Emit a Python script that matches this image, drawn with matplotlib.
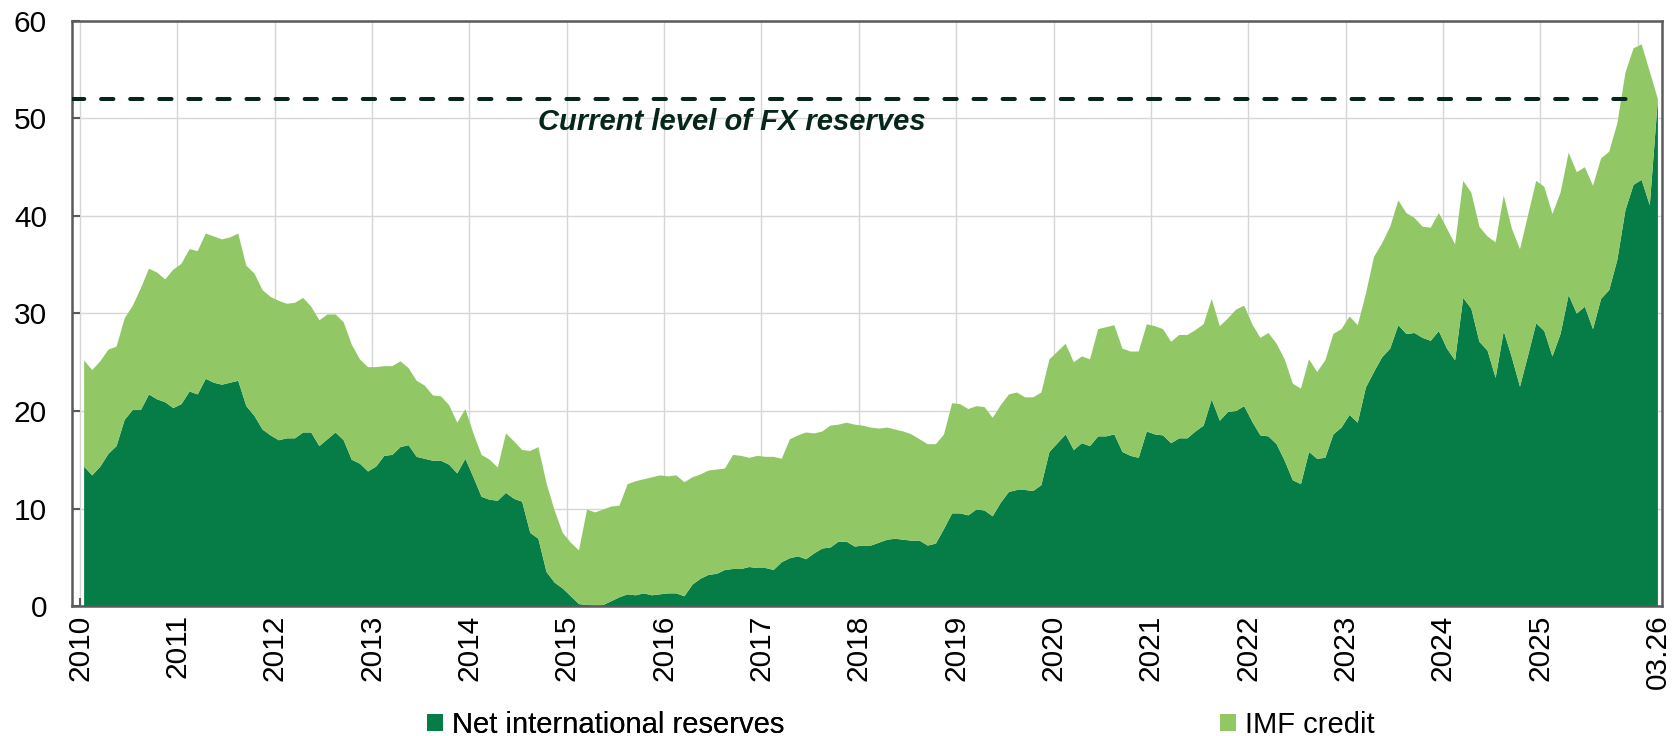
import matplotlib
matplotlib.use("Agg")
import matplotlib.pyplot as plt
from matplotlib.patches import Patch
import numpy as np
import pandas as pd

# monthly data, Jan 2010 - Mar 2026 (USD bn)
months = pd.date_range("2010-01-01", "2026-03-01", freq="MS")

net_reserves = [
    14.3, 13.4, 14.3, 15.6, 16.4, 19.1, 20.1, 20.1, 21.7, 21.2, 20.9, 20.3,  # 2010
    20.7, 22.0, 21.7, 23.3, 22.9, 22.7, 22.9, 23.1, 20.5, 19.5, 18.1, 17.5,  # 2011
    17.0, 17.2, 17.2, 17.8, 17.8, 16.4, 17.1, 17.8, 17.0, 15.0, 14.6, 13.8,  # 2012
    14.3, 15.4, 15.5, 16.3, 16.5, 15.3, 15.1, 14.9, 14.9, 14.5, 13.6, 15.1,  # 2013
    13.2, 11.2, 10.9, 10.8, 11.6, 11.0, 10.7, 7.5, 6.9, 3.5, 2.4, 1.8,       # 2014
    1.0, 0.2, 0.1, 0.0, 0.1, 0.5, 0.9, 1.2, 1.1, 1.3, 1.1, 1.2,              # 2015
    1.3, 1.3, 1.0, 2.2, 2.8, 3.2, 3.3, 3.7, 3.8, 3.8, 4.0, 3.9,              # 2016
    3.9, 3.7, 4.5, 4.9, 5.1, 4.8, 5.4, 5.9, 6.0, 6.6, 6.6, 6.1,              # 2017
    6.2, 6.2, 6.5, 6.8, 6.9, 6.8, 6.7, 6.7, 6.2, 6.4, 7.9, 9.5,              # 2018
    9.5, 9.3, 9.9, 9.8, 9.2, 10.6, 11.7, 11.9, 11.9, 11.8, 12.4, 15.8,       # 2019
    16.7, 17.6, 16.0, 16.7, 16.4, 17.4, 17.4, 17.6, 15.8, 15.4, 15.2, 17.9,  # 2020
    17.6, 17.5, 16.7, 17.2, 17.2, 17.9, 18.5, 21.2, 19.0, 19.9, 20.0, 20.5,  # 2021
    18.9, 17.5, 17.4, 16.6, 14.9, 12.9, 12.5, 15.8, 15.1, 15.2, 17.6, 18.3,  # 2022
    19.6, 18.8, 22.4, 24.0, 25.5, 26.4, 28.8, 27.9, 28.0, 27.5, 27.2, 28.2,  # 2023
    26.4, 25.2, 31.6, 30.5, 27.1, 26.2, 23.4, 28.2, 25.5, 22.5, 25.7, 29.0,  # 2024
    28.2, 25.6, 27.9, 31.9, 30.0, 30.7, 28.4, 31.5, 32.4, 35.5, 40.6, 43.2,  # 2025
    43.7, 41.1, 52.0,                                                        # 2026
]

# top of the stack (net reserves + IMF credit)
reserves_total = [
    25.2, 24.2, 25.1, 26.3, 26.6, 29.5, 30.8, 32.6, 34.6, 34.2, 33.5, 34.5,
    35.1, 36.6, 36.4, 38.2, 37.9, 37.6, 37.8, 38.2, 34.9, 34.1, 32.4, 31.7,
    31.3, 31.0, 31.1, 31.6, 30.7, 29.3, 29.9, 29.9, 29.1, 26.8, 25.3, 24.5,
    24.5, 24.6, 24.6, 25.1, 24.4, 23.1, 22.6, 21.6, 21.5, 20.6, 18.8, 20.2,
    17.7, 15.5, 15.0, 14.2, 17.7, 16.9, 16.0, 15.9, 16.3, 12.6, 9.8, 7.5,
    6.5, 5.7, 9.9, 9.6, 9.9, 10.2, 10.3, 12.5, 12.8, 13.0, 13.2, 13.4,
    13.3, 13.4, 12.7, 13.2, 13.5, 13.9, 14.0, 14.1, 15.5, 15.4, 15.2, 15.4,
    15.3, 15.3, 15.1, 17.1, 17.5, 17.8, 17.7, 17.9, 18.5, 18.6, 18.8, 18.6,
    18.5, 18.3, 18.2, 18.3, 18.1, 17.9, 17.6, 17.1, 16.6, 16.6, 17.6, 20.8,
    20.7, 20.2, 20.5, 20.4, 19.3, 20.6, 21.7, 21.9, 21.4, 21.4, 21.9, 25.3,
    26.1, 26.9, 25.0, 25.6, 25.3, 28.4, 28.6, 28.8, 26.4, 26.1, 26.1, 28.9,
    28.7, 28.4, 27.1, 27.8, 27.8, 28.3, 28.9, 31.5, 28.7, 29.5, 30.4, 30.8,
    28.9, 27.5, 28.0, 26.9, 25.3, 22.8, 22.3, 25.3, 24.0, 25.2, 27.9, 28.4,
    29.7, 28.8, 32.0, 35.8, 37.2, 38.9, 41.6, 40.3, 39.8, 38.9, 38.8, 40.3,
    38.7, 37.1, 43.6, 42.4, 38.9, 37.9, 37.3, 42.1, 38.7, 36.6, 40.1, 43.6,
    43.0, 40.2, 42.4, 46.5, 44.5, 45.0, 43.1, 45.9, 46.6, 49.5, 54.7, 57.2,
    57.6, 54.8, 52.0,
]

imf_credit = np.array(reserves_total) - np.array(net_reserves)

current_fx = 52
year_labels = [str(y) for y in range(2010, 2026)]
last_label = "03.26"

dark_green = "#067d46"
light_green = "#92c766"
line_col = "#06261a"
axis_col = "#5a5a5a"
fs = 21

plt.rcParams["font.family"] = ["Liberation Sans", "DejaVu Sans"]

fig, ax = plt.subplots(figsize=(16.73, 7.36), dpi=100)
fig.subplots_adjust(left=0.043, right=0.9934, top=0.9715, bottom=0.1766)

x = np.arange(len(months))
ax.stackplot(x, net_reserves, imf_credit, colors=[dark_green, light_green],
             linewidth=0, zorder=2)

# current level of reserves
ax.hlines(current_fx, -1.5, 191, colors=line_col, linewidth=2.9,
          linestyles=(0, (3.05, 4.17)), capstyle="round", zorder=4)
ax.text(55.9, 48.8, "Current level of FX reserves", fontsize=fs,
        fontweight="bold", fontstyle="italic", color=line_col,
        va="baseline", ha="left", zorder=5)

# axes
ax.set_xlim(-1.5, len(months) - 0.5)
ax.set_ylim(0, 60)
ax.set_yticks(range(0, 61, 10))

year_pos = [i * 12 - 0.5 for i in range(len(year_labels) + 1)]
ax.set_xticks(year_pos)
ax.set_xticklabels(year_labels + [""], rotation=90)
ax.set_xticks([len(months) - 1], minor=True)
ax.set_xticklabels([last_label], minor=True, rotation=90)

ax.tick_params(axis="x", which="major", direction="in", length=6, width=1.5,
               color=axis_col, labelsize=fs + 0.5, pad=6)
ax.tick_params(axis="x", which="minor", length=0, labelsize=fs + 0.5, pad=6)
ax.tick_params(axis="y", direction="in", length=6, width=1.5,
               color=axis_col, labelsize=fs + 0.5, pad=18)

ax.grid(True, color="#d6d6d6", linewidth=1.0)
ax.set_axisbelow(True)
for s in ax.spines.values():
    s.set_color(axis_col)
    s.set_linewidth(1.8)

# legend (spread out under the chart)
h1 = Patch(facecolor=dark_green, edgecolor="none")
h2 = Patch(facecolor=light_green, edgecolor="none")
leg_kw = dict(loc="center left", frameon=False, fontsize=fs, handlelength=0.55,
              handleheight=0.55, handletextpad=0.3, borderpad=0, borderaxespad=0)
leg1 = fig.legend([h1], ["Net international reserves"],
                  bbox_to_anchor=(427 / 1673, 0.015), **leg_kw)
fig.legend([h2], ["IMF credit"], bbox_to_anchor=(1220 / 1673, 0.015), **leg_kw)
fig.add_artist(leg1)

fig.savefig("out.png", dpi=100)
